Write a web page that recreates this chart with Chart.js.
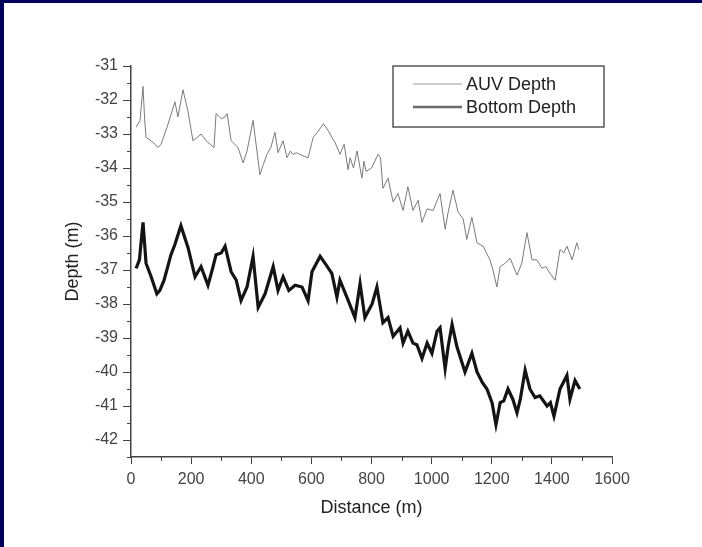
<!DOCTYPE html>
<html lang="en">
<head>
    <meta charset="UTF-8">
    <title>AUV Depth and Bottom Depth</title>
    <script src="https://cdn.jsdelivr.net/npm/chart.js"></script>
    <style>
        body {
            margin: 0;
            background-color: white;
        }
        .frame {
            position: relative;
            width: 702px;
            height: 547px;
            overflow: hidden;
        }
        .edge-top {
            position: absolute;
            left: 0;
            top: 0;
            width: 702px;
            height: 3px;
            background-color: #00005c;
        }
        .edge-left {
            position: absolute;
            left: 0;
            top: 0;
            width: 4px;
            height: 547px;
            background-color: #00005c;
        }
        canvas {
            display: block;
        }
    </style>
</head>
<body>
    <div class="frame">
        <canvas id="depthChart" width="702" height="547"></canvas>
        <div class="edge-top"></div>
        <div class="edge-left"></div>
    </div>

    <script>
        // Data
        const auvDistance = [17, 30, 40, 45, 50, 67, 80, 90, 100, 120, 146, 156, 173, 190, 206, 220, 233, 250, 263, 276,
            283, 300, 313, 320, 333, 345, 356, 373, 386, 406, 429, 440, 452, 465, 479, 489, 506, 519, 530, 539,
            550, 562, 575, 589, 606, 620, 640, 656, 668, 679, 695, 709, 722, 729, 740, 752, 768, 775, 782, 800,
            822, 830, 838, 855, 872, 888, 905, 921, 938, 955, 968, 985, 1005, 1028, 1045, 1055, 1071, 1088, 1105, 1117,
            1134, 1151, 1171, 1194, 1204, 1217, 1228, 1245, 1261, 1284, 1300, 1317, 1334, 1350, 1367, 1380, 1394, 1411, 1427, 1440,
            1450, 1467, 1483, 1490];
        const auvDepth = [-32.8, -32.6, -31.6, -32.5, -33.1, -33.2, -33.3, -33.4, -33.3, -32.8, -32.05, -32.5, -31.7, -32.35, -33.2, -33.1, -33.0, -33.2, -33.3, -33.4,
            -32.4, -32.55, -32.5, -32.4, -33.2, -33.3, -33.4, -33.85, -33.5, -32.6, -34.2, -33.9, -33.6, -33.4, -32.95, -33.55, -33.2, -33.7, -33.5, -33.6,
            -33.55, -33.6, -33.65, -33.7, -33.1, -32.95, -32.7, -32.9, -33.1, -33.25, -33.6, -33.3, -34.05, -33.7, -34.0, -33.5, -34.3, -33.8, -34.1, -34.0,
            -33.6, -33.7, -34.6, -34.3, -35.0, -34.75, -35.25, -34.55, -35.25, -34.95, -35.6, -35.2, -35.25, -34.75, -35.8, -35.3, -34.65, -35.3, -35.5, -36.1,
            -35.45, -36.2, -36.3, -36.7, -37.0, -37.5, -36.9, -36.8, -36.65, -37.15, -36.8, -35.9, -36.7, -36.7, -36.95, -36.9, -37.1, -37.3, -36.4, -36.5,
            -36.3, -36.7, -36.2, -36.4];

        const bottomDistance = [17, 28, 40, 50, 67, 86, 96, 110, 133, 146, 166, 190, 213, 233, 256, 270, 283, 300, 313, 333,
            350, 366, 386, 406, 423, 446, 473, 489, 506, 525, 546, 569, 589, 602, 629, 645, 668, 685, 695, 718,
            745, 762, 778, 802, 818, 838, 855, 872, 895, 905, 921, 938, 951, 968, 985, 1001, 1018, 1028, 1045, 1055,
            1068, 1084, 1111, 1134, 1151, 1168, 1184, 1201, 1214, 1228, 1240, 1254, 1270, 1284, 1295, 1311, 1327, 1344, 1360, 1384,
            1395, 1407, 1427, 1450, 1460, 1477, 1493];
        const bottomDepth = [-36.95, -36.7, -35.6, -36.8, -37.2, -37.7, -37.6, -37.3, -36.55, -36.25, -35.7, -36.35, -37.2, -36.9, -37.45, -37.0, -36.55, -36.5, -36.3, -37.05,
            -37.3, -37.9, -37.5, -36.6, -38.1, -37.7, -36.9, -37.6, -37.2, -37.6, -37.45, -37.5, -37.9, -37.05, -36.6, -36.8, -37.1, -37.8, -37.3, -37.8,
            -38.4, -37.4, -38.4, -38.0, -37.5, -38.55, -38.4, -38.95, -38.7, -39.15, -38.8, -39.15, -39.2, -39.6, -39.15, -39.45, -38.8, -38.7, -39.9, -39.25,
            -38.6, -39.25, -40.0, -39.45, -40.0, -40.3, -40.5, -40.9, -41.55, -40.9, -40.85, -40.5, -40.8, -41.2, -40.8, -39.95, -40.5, -40.75, -40.7, -41.0,
            -40.9, -41.3, -40.5, -40.1, -40.8, -40.25, -40.5];

        const xTickValues = [0, 200, 400, 600, 800, 1000, 1200, 1400, 1600];
        const yTickValues = [-31, -32, -33, -34, -35, -36, -37, -38, -39, -40, -41, -42];

        const fontFamily = '"Liberation Sans", Arial, sans-serif';
        const axisColor = '#444';

        function toPoints(xs, ys) {
            return xs.map((x, i) => ({ x: x, y: ys[i] }));
        }

        // small ticks halfway between the labelled ones
        const minorTicks = {
            id: 'minorTicks',
            afterDraw(chart) {
                const c = chart.ctx;
                const area = chart.chartArea;
                const xs = chart.scales.x;
                const ys = chart.scales.y;
                c.save();
                c.strokeStyle = axisColor;
                c.lineWidth = 1;
                c.beginPath();
                for (let i = 0; i < xTickValues.length - 1; i++) {
                    const px = Math.round(xs.getPixelForValue((xTickValues[i] + xTickValues[i + 1]) / 2)) + 0.5;
                    c.moveTo(px, area.bottom);
                    c.lineTo(px, area.bottom + 4);
                }
                for (let i = 0; i < yTickValues.length; i++) {
                    const py = Math.round(ys.getPixelForValue(yTickValues[i] - 0.5)) + 0.5;
                    c.moveTo(area.left - 4, py);
                    c.lineTo(area.left, py);
                }
                c.stroke();
                c.restore();
            }
        };

        // boxed legend in the upper right of the plot
        const boxLegend = {
            id: 'boxLegend',
            afterDraw(chart) {
                const c = chart.ctx;
                const sets = chart.data.datasets;
                const box = { x: 393, y: 66, w: 211, h: 61 };
                const rows = [84, 107];
                const samples = [{ color: '#9a9a9a', width: 1 }, { color: '#6a6a6a', width: 2.4 }];
                c.save();
                c.fillStyle = 'white';
                c.fillRect(box.x, box.y, box.w, box.h);
                c.strokeStyle = '#555';
                c.lineWidth = 1.5;
                c.strokeRect(box.x, box.y, box.w, box.h);
                c.font = '18px ' + fontFamily;
                c.textBaseline = 'middle';
                c.fillStyle = '#222';
                sets.forEach((ds, i) => {
                    c.strokeStyle = samples[i].color;
                    c.lineWidth = samples[i].width;
                    c.beginPath();
                    c.moveTo(413, rows[i]);
                    c.lineTo(462, rows[i]);
                    c.stroke();
                    c.fillText(ds.label, 466, rows[i] + 1);
                });
                c.restore();
            }
        };

        const ctx = document.getElementById('depthChart').getContext('2d');
        const chart = new Chart(ctx, {
            type: 'line',
            data: {
                datasets: [
                    {
                        label: 'AUV Depth',
                        data: toPoints(auvDistance, auvDepth),
                        borderColor: '#7a7a7a',
                        borderWidth: 1,
                        pointRadius: 0,
                        tension: 0
                    },
                    {
                        label: 'Bottom Depth',
                        data: toPoints(bottomDistance, bottomDepth),
                        borderColor: '#141414',
                        borderWidth: 3.2,
                        pointRadius: 0,
                        tension: 0
                    }
                ]
            },
            options: {
                responsive: false,
                animation: false,
                layout: {
                    padding: { top: 66, right: 90, left: 0, bottom: 0 }
                },
                plugins: {
                    legend: { display: false },
                    tooltip: { enabled: false }
                },
                scales: {
                    x: {
                        type: 'linear',
                        min: 0,
                        max: 1600,
                        afterFit: (scale) => { scale.height = 90; },
                        afterBuildTicks: (scale) => {
                            scale.ticks = xTickValues.map(v => ({ value: v }));
                        },
                        border: { display: true, color: axisColor, width: 1.5 },
                        grid: { drawOnChartArea: false, drawTicks: true, tickLength: 7, color: axisColor },
                        ticks: {
                            padding: 6,
                            color: '#444',
                            font: { family: fontFamily, size: 16 },
                            maxRotation: 0,
                            callback: (v) => String(v)
                        },
                        title: {
                            display: true,
                            text: 'Distance (m)',
                            color: '#222',
                            font: { family: fontFamily, size: 18 },
                            padding: { top: 0, bottom: 28 }
                        }
                    },
                    y: {
                        type: 'linear',
                        min: -42.5,
                        max: -31,
                        afterFit: (scale) => { scale.width = 131; },
                        afterBuildTicks: (scale) => {
                            scale.ticks = yTickValues.map(v => ({ value: v }));
                        },
                        border: { display: true, color: axisColor, width: 1.5 },
                        grid: { drawOnChartArea: false, drawTicks: true, tickLength: 8, color: axisColor },
                        ticks: {
                            padding: 5,
                            color: '#444',
                            font: { family: fontFamily, size: 16 },
                            callback: (v) => String(v)
                        },
                        title: {
                            display: true,
                            text: 'Depth (m)',
                            color: '#222',
                            font: { family: fontFamily, size: 18 },
                            padding: { top: 62, bottom: 0 }
                        }
                    }
                }
            },
            plugins: [minorTicks, boxLegend]
        });
    </script>
</body>
</html>
